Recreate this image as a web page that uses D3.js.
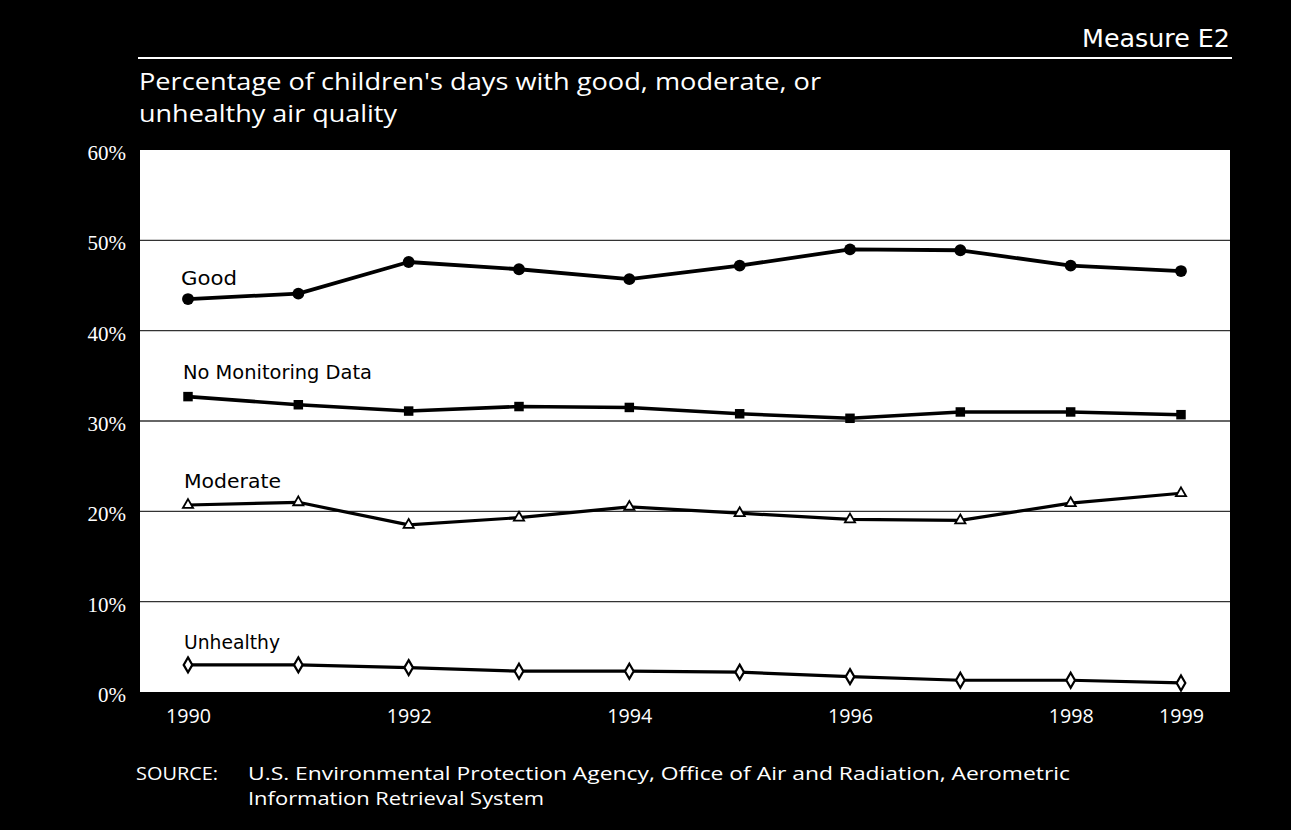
<!DOCTYPE html>
<html>
<head>
<meta charset="utf-8">
<script src="https://cdn.jsdelivr.net/npm/d3@7"></script>
<style>
  html, body { margin: 0; padding: 0; background: #000; }
  svg { display: block; }
</style>
</head>
<body>
<svg id="chart" width="1291" height="830"></svg>
<script>
const years = [1990, 1991, 1992, 1993, 1994, 1995, 1996, 1997, 1998, 1999];
const good         = [43.5, 44.1, 47.6, 46.8, 45.7, 47.2, 49.0, 48.9, 47.2, 46.6];
const noMonitoring = [32.7, 31.8, 31.1, 31.6, 31.5, 30.8, 30.3, 31.0, 31.0, 30.7];
const moderate     = [20.7, 21.0, 18.5, 19.3, 20.5, 19.8, 19.1, 19.0, 20.9, 22.0];
const unhealthy    = [3.0, 3.0, 2.7, 2.3, 2.3, 2.2, 1.7, 1.3, 1.3, 1.0];
const yTicks = [0, 10, 20, 30, 40, 50, 60];
const xTickYears = [1990, 1992, 1994, 1996, 1998, 1999];
const seriesNames = ["Good", "No Monitoring Data", "Moderate", "Unhealthy"];

const series = [
  { name: seriesNames[0], values: good, marker: "circle", width: 3.8, label: { x: 181, y: 285, w: 56 } },
  { name: seriesNames[1], values: noMonitoring, marker: "square", width: 3.6, label: { x: 183, y: 379, w: 189 } },
  { name: seriesNames[2], values: moderate, marker: "triangle", width: 3.2, label: { x: 184, y: 488, w: 97 } },
  { name: seriesNames[3], values: unhealthy, marker: "diamond", width: 3.2, label: { x: 184, y: 649, w: 96 } }
];

const svg = d3.select("#chart");
const panel = { left: 140, right: 1230, top: 150, bottom: 692 };

const x = d3.scaleLinear().domain([1990, 1999]).range([188, 1181]);
const y = d3.scaleLinear().domain([0, 60]).range([panel.bottom, panel.top]);

function fitText(sel, w) {
  sel.attr("textLength", w).attr("lengthAdjust", "spacingAndGlyphs");
}

const sansFont = "'Open Sans', 'Noto Sans', sans-serif";
const geoFont = "'DejaVu Sans', 'Noto Sans', sans-serif";

// header
svg.append("text")
  .attr("x", 1230).attr("y", 47)
  .attr("text-anchor", "end")
  .attr("fill", "#fff")
  .style("font-family", geoFont)
  .style("font-size", "25px")
  .text("Measure E2")
  .call(fitText, 148);

svg.append("line")
  .attr("x1", 138).attr("x2", 1232)
  .attr("y1", 58).attr("y2", 58)
  .attr("stroke", "#fff").attr("stroke-width", 2);

svg.append("text")
  .attr("x", 139).attr("y", 90)
  .attr("fill", "#fff")
  .style("font-family", sansFont).style("font-size", "23px")
  .text("Percentage of children's days with good, moderate, or")
  .call(fitText, 682);
svg.append("text")
  .attr("x", 139).attr("y", 122)
  .attr("fill", "#fff")
  .style("font-family", sansFont).style("font-size", "23px")
  .text("unhealthy air quality")
  .call(fitText, 258);

// white panel
svg.append("rect")
  .attr("x", panel.left).attr("y", y(60))
  .attr("width", panel.right - panel.left)
  .attr("height", y(0) - y(60))
  .attr("fill", "#fff");

// gridlines
svg.append("g")
  .selectAll("line")
  .data(yTicks.filter(d => d > 0 && d < 60))
  .join("line")
  .attr("x1", panel.left).attr("x2", panel.right)
  .attr("y1", d => y(d)).attr("y2", d => y(d))
  .attr("stroke", "#333").attr("stroke-width", 1.4);

// y axis
const yAxis = svg.append("g")
  .attr("transform", `translate(${panel.left},0)`)
  .call(d3.axisLeft(y).tickValues(yTicks).tickFormat(d => d + "%").tickSize(0).tickPadding(14));
yAxis.select(".domain").remove();
yAxis.selectAll("text")
  .attr("fill", "#fff")
  .attr("dy", "0.45em")
  .style("font-family", "'Liberation Serif', 'DejaVu Serif', serif")
  .style("font-size", "21px");

// x axis
const xAxis = svg.append("g")
  .attr("transform", `translate(0,${panel.bottom})`)
  .call(d3.axisBottom(x).tickValues(xTickYears).tickFormat(d3.format("d")).tickSize(0).tickPadding(17));
xAxis.select(".domain").remove();
xAxis.selectAll("text")
  .attr("fill", "#fff")
  .style("font-family", sansFont)
  .style("font-size", "20px")
  .call(fitText, 45);

// lines
const line = d3.line().x(d => x(d[0])).y(d => y(d[1]));
series.forEach(s => {
  const pts = years.map((yr, i) => [yr, s.values[i]]);
  const g = svg.append("g");
  g.append("path")
    .attr("d", line(pts))
    .attr("fill", "none")
    .attr("stroke", "#000")
    .attr("stroke-width", s.width)
    .attr("stroke-linejoin", "round");

  let sym, size, fill, stroke, sw;
  if (s.marker === "circle") { sym = d3.symbolCircle; size = 110; fill = "#000"; stroke = "none"; sw = 0; }
  else if (s.marker === "square") { sym = d3.symbolSquare; size = 90; fill = "#000"; stroke = "none"; sw = 0; }
  else if (s.marker === "triangle") { sym = d3.symbolTriangle; size = 45; fill = "#fff"; stroke = "#000"; sw = 1.8; }
  else { sym = d3.symbolDiamond; size = 65; fill = "#fff"; stroke = "#000"; sw = 2.2; }

  g.selectAll("path.m")
    .data(pts)
    .join("path")
    .attr("class", "m")
    .attr("transform", d => `translate(${x(d[0])},${y(d[1])})`)
    .attr("d", d3.symbol().type(sym).size(size))
    .attr("fill", fill).attr("stroke", stroke).attr("stroke-width", sw);

  g.append("text")
    .attr("x", s.label.x).attr("y", s.label.y)
    .attr("fill", "#000")
    .style("font-family", geoFont)
    .style("font-size", "19px")
    .text(s.name)
    .call(fitText, s.label.w);
});

// source
svg.append("text")
  .attr("x", 136).attr("y", 780)
  .attr("fill", "#fff")
  .style("font-family", sansFont).style("font-size", "18px")
  .text("SOURCE:")
  .call(fitText, 82);
svg.append("text")
  .attr("x", 248).attr("y", 780)
  .attr("fill", "#fff")
  .style("font-family", sansFont).style("font-size", "18px")
  .text("U.S. Environmental Protection Agency, Office of Air and Radiation, Aerometric")
  .call(fitText, 822);
svg.append("text")
  .attr("x", 248).attr("y", 805)
  .attr("fill", "#fff")
  .style("font-family", sansFont).style("font-size", "18px")
  .text("Information Retrieval System")
  .call(fitText, 296);
</script>
</body>
</html>
